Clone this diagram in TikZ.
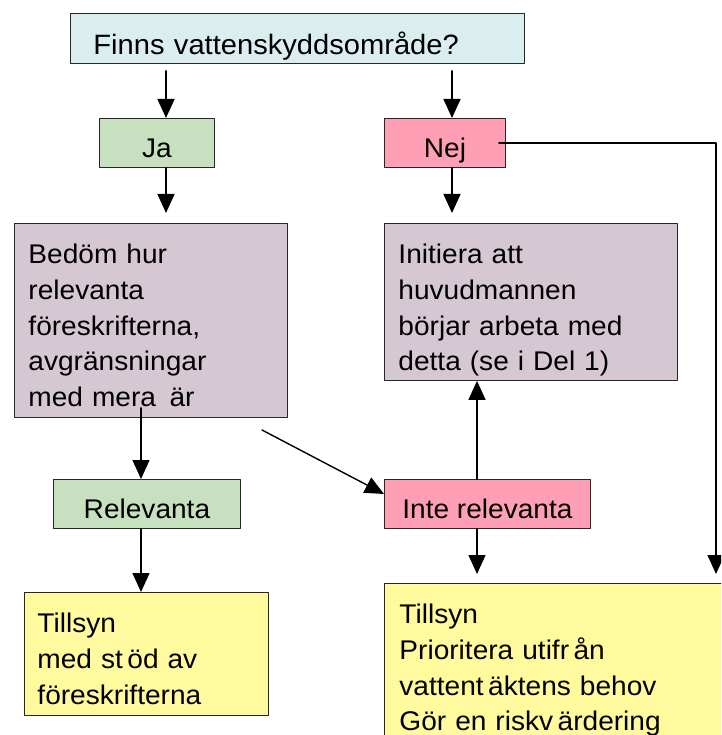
\documentclass[tikz,border=0pt]{standalone}
\usepackage{fontspec}
\setmainfont[FakeStretch=1.04]{Liberation Sans}
\usetikzlibrary{arrows.meta,calc}

\definecolor{askblue}{HTML}{DAEEF0}
\definecolor{jagreen}{HTML}{C6E0C0}
\definecolor{nejpink}{HTML}{FF9FB5}
\definecolor{stepmauve}{HTML}{D5C8D3}
\definecolor{tillyellow}{HTML}{FFFA9E}

\tikzset{
  box/.style={draw=black!85,line width=0.9pt,anchor=north west,inner ysep=0pt,
    font=\fontsize{27}{35.8}\selectfont},
  onerow/.style={box,inner xsep=0pt,text height=39pt,text depth=10pt},
  textbox/.style={box,align=left,text height=40pt},
  arr/.style={->,line width=1.4pt},
}

\begin{document}
\begin{tikzpicture}[line cap=round,line join=round,>={Triangle[width=17pt,length=19pt]},x=1pt,y=-1pt]
      \clip (0,0) rectangle (721,735);

      \node[box,fill=askblue,align=left,inner xsep=23pt,text width=408pt,text height=41pt,text depth=9pt,
        font=\fontsize{28}{36}\selectfont] (fraga) at (70,13) {Finns vattenskyddsområde?};
      \node[onerow,fill=jagreen,minimum width=115pt] (ja) at (99,118) {Ja};
      \node[onerow,fill=nejpink,minimum width=121pt] (nej) at (384,118) {Nej};

      \node[textbox,fill=stepmauve,inner xsep=14pt,text width=245pt,text depth=154pt] (bedom) at (14,223)
        {Bedöm hur\\relevanta\\föreskrifterna,\\avgränsningar\\med mera\, är};
      \node[textbox,fill=stepmauve,inner xsep=14pt,text width=265pt,text depth=117pt] (initiera) at (384,223)
        {Initiera att\\huvudmannen\\börjar arbeta med\\detta (se i Del 1)};

      \node[onerow,fill=jagreen,minimum width=187pt] (relev) at (53,479) {Relevanta};
      \node[onerow,fill=nejpink,minimum width=206pt] (interel) at (384,479) {Inte relevanta};

      \node[textbox,fill=tillyellow,inner xsep=13pt,text width=218pt,text depth=83pt] (tillsynA) at (24,592)
        {Tillsyn\\med st\,öd av\\föreskrifterna};
      \node[textbox,fill=tillyellow,inner xsep=15pt,text width=346pt,text depth=140pt] (tillsynB) at (384,583)
        {Tillsyn\\Prioritera utifr\,ån\\vattent\,äktens behov\\Gör en riskv\,ärdering};

      \coordinate (xa) at (166,0);
      \coordinate (xb) at (452,0);
      \coordinate (xc) at (141,0);
      \coordinate (xd) at (477,0);
      \coordinate (xe) at (716,0);
      \coordinate (dstart) at (262,430);

      \draw[arr,shorten <=7pt] (fraga.south -| xa) -- (ja.north -| xa);
      \draw[arr,shorten <=7pt] (fraga.south -| xb) -- (nej.north -| xb);
      \draw[arr,shorten >=10pt] (ja.south -| xa) -- (bedom.north -| xa);
      \draw[arr,shorten >=10pt] (nej.south -| xb) -- (initiera.north -| xb);
      \draw[arr,shorten >=9pt] ($(nej.east)+(-7,0)$) -- (nej.east -| xe) -- (tillsynB.north -| xe);
      \draw[arr] ($(bedom.south -| xc)+(0,-10)$) -- (relev.north -| xc);
      \draw[arr] (dstart) -- ($(interel.west)+(0,-10)$);
      \draw[arr] (interel.north -| xd) -- (initiera.south -| xd);
      \draw[arr,shorten >=9pt] (interel.south -| xd) -- (tillsynB.north -| xd);
      \draw[arr] (relev.south -| xc) -- (tillsynA.north -| xc);
    \end{tikzpicture}
\end{document}
